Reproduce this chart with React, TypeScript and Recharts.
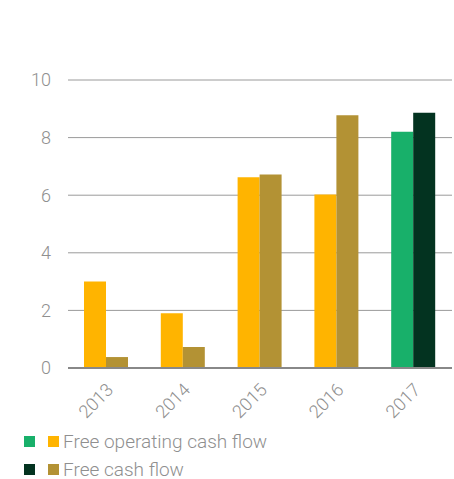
import { BarChart, Bar, XAxis, YAxis, CartesianGrid, Cell } from 'recharts';

const years = ['2013', '2014', '2015', '2016', '2017'];
const freeOperatingCashFlow = [3.0, 1.9, 6.62, 6.02, 8.2];
const freeCashFlow = [0.38, 0.73, 6.72, 8.78, 8.86];
const yTicks = [0, 2, 4, 6, 8, 10];

const data = years.map((year, i) => ({
  year,
  fOcf: freeOperatingCashFlow[i],
  fcf: freeCashFlow[i],
}));

const FONT = 'Roboto, sans-serif';
const TEXT = '#8f8f8f';

const XTick = (props: any) => {
  const { x, y, payload } = props;
  const tx = x + 8;
  const ty = y + 15;
  return (
    <text
      x={tx}
      y={ty}
      transform={`rotate(-45, ${tx}, ${ty})`}
      textAnchor="end"
      fill={TEXT}
      fontSize={18}
      fontWeight={300}
      fontFamily={FONT}
    >
      {payload.value}
    </text>
  );
};

const LegendRow = ({ c1, c2, label }: { c1: string; c2: string; label: string }) => (
  <div style={{ display: 'flex', alignItems: 'center', height: 28 }}>
    <span style={{ width: 11, height: 11, background: c1, marginLeft: 24 }} />
    <span style={{ width: 11, height: 11, background: c2, marginLeft: 13 }} />
    <span style={{ marginLeft: 4, color: TEXT, fontSize: 19, lineHeight: 1, fontWeight: 300, fontFamily: FONT }}>{label}</span>
  </div>
);

export default function App() {
  return (
    <div style={{ position: 'absolute', left: 0, top: 0, width: 454, height: 479, background: '#fff' }}>
      <BarChart
        width={454}
        height={479}
        data={data}
        margin={{ top: 80, right: 2, bottom: 0, left: 0 }}
        barSize={22}
        barGap={0}
      >
        <CartesianGrid vertical={false} stroke="#9a9a9a" />
        <XAxis
          dataKey="year"
          height={111}
          tickLine={false}
          axisLine={{ stroke: '#888', strokeWidth: 2 }}
          tick={<XTick />}
          interval={0}
        />
        <YAxis
          width={68}
          domain={[0, 10]}
          ticks={yTicks}
          axisLine={false}
          tickLine={false}
          tickMargin={11}
          tick={{ fill: TEXT, fontSize: 18, fontWeight: 300, fontFamily: FONT }}
        />
        <Bar dataKey="fOcf" isAnimationActive={false}>
          {data.map((d, i) => (
            <Cell key={d.year} fill={i === years.length - 1 ? '#18b06a' : '#ffb400'} />
          ))}
        </Bar>
        <Bar dataKey="fcf" isAnimationActive={false}>
          {data.map((d, i) => (
            <Cell key={d.year} fill={i === years.length - 1 ? '#033320' : '#b39234'} />
          ))}
        </Bar>
      </BarChart>
      <div style={{ position: 'absolute', left: 0, top: 427 }}>
        <LegendRow c1="#18b06a" c2="#ffb400" label="Free operating cash flow" />
        <LegendRow c1="#033320" c2="#b39234" label="Free cash flow" />
      </div>
    </div>
  );
}
